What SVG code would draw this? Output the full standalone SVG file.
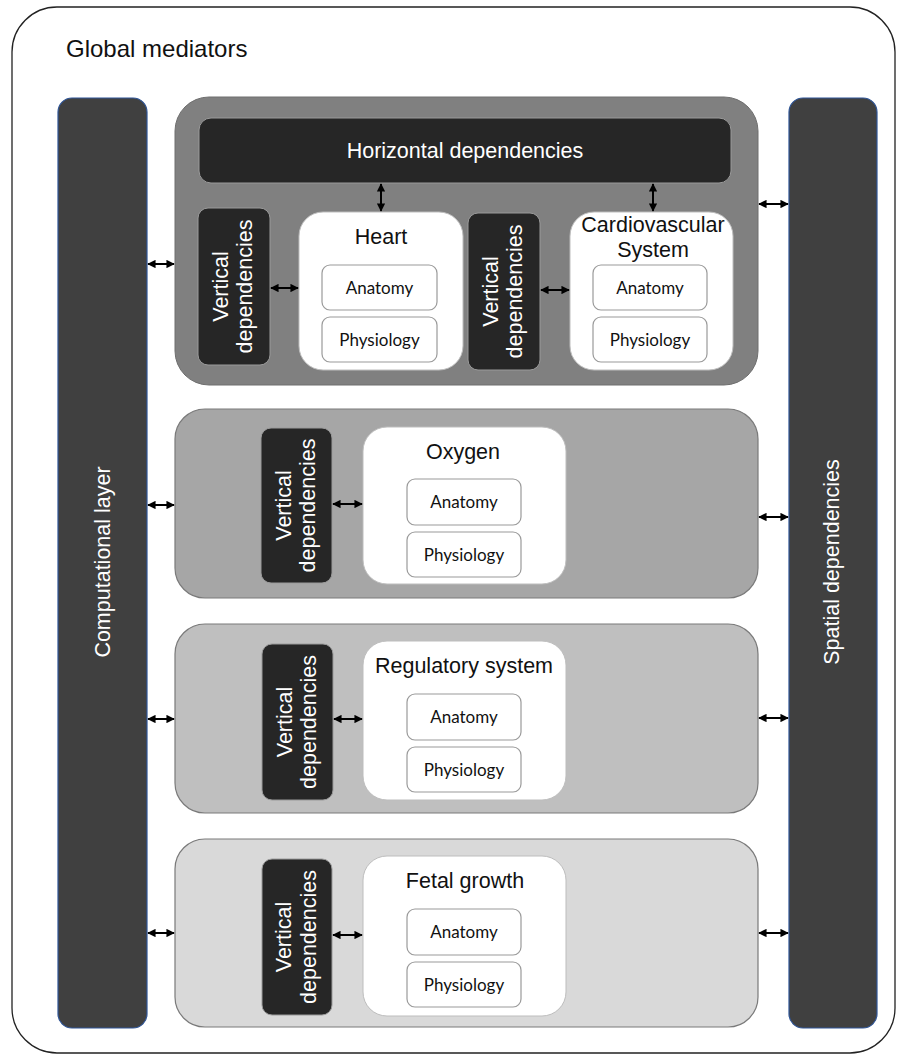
<svg xmlns="http://www.w3.org/2000/svg" width="897" height="1056" viewBox="0 0 897 1056">
<defs>
<marker id="ah" viewBox="0 0 10 10" refX="9" refY="5" markerWidth="4.2" markerHeight="4.2" orient="auto-start-reverse" markerUnits="strokeWidth">
<path d="M0,0 L10,5 L0,10 z" fill="#000"/>
</marker>
<style>
.t{font-family:"Liberation Sans",Arial,sans-serif;font-size:21.5px;text-anchor:middle}
.w{fill:#fff}
.k{fill:#111}
.s{font-family:Lato,"Open Sans",sans-serif;font-size:17px;text-anchor:middle;fill:#111}
.bar{fill:#404040;stroke:#2f5597;stroke-width:1.2}
.vd{fill:#262626;stroke:#9a9a9a;stroke-width:1}
.wb{fill:#fff;stroke:#bdbdbd;stroke-width:1}
.sb{fill:#fff;stroke:#9a9a9a;stroke-width:1.2}
.c{stroke:#000;stroke-width:2;fill:none;marker-start:url(#ah);marker-end:url(#ah)}
</style>
</defs>
<rect width="897" height="1056" fill="#fff"/>
<g id="global">
<rect x="12" y="7" width="883" height="1046" rx="45" fill="#fff" stroke="#222" stroke-width="1.3"/>
<text class="t k" x="66" y="57" style="text-anchor:start;font-size:24px">Global mediators</text>
</g>
<g id="computational">
<rect class="bar" x="58" y="98" width="89" height="930" rx="14"/>
<text class="t w" transform="translate(110,562) rotate(-90)">Computational layer</text>
</g>
<g id="spatial">
<rect class="bar" x="789" y="98" width="88" height="930" rx="14"/>
<text class="t w" transform="translate(839,562) rotate(-90)">Spatial dependencies</text>
</g>
<g id="panel-top">
<rect x="175" y="97" width="583" height="288" rx="34" fill="#808080" stroke="#6f6f6f" stroke-width="1"/>
</g>
<g id="horizontal">
<rect class="vd" x="199" y="118" width="532" height="65" rx="12"/>
<text class="t w" x="465" y="158">Horizontal dependencies</text>
</g>
<g id="vd1">
<rect class="vd" x="198" y="208" width="72" height="157" rx="10"/>
<text class="t w" transform="translate(228,286.5) rotate(-90)">Vertical</text>
<text class="t w" transform="translate(252,286.5) rotate(-90)">dependencies</text>
</g>
<g id="heart">
<rect class="wb" x="299" y="212" width="164" height="158" rx="24"/>
<text class="t k" x="381" y="244">Heart</text>
<rect class="sb" x="322" y="265" width="115" height="45" rx="8"/>
<text class="s" x="379.5" y="293.5">Anatomy</text>
<rect class="sb" x="322" y="317" width="115" height="45" rx="8"/>
<text class="s" x="379.5" y="345.5">Physiology</text>
</g>
<g id="vd2">
<rect class="vd" x="468" y="213" width="72" height="157" rx="10"/>
<text class="t w" transform="translate(497.5,291.5) rotate(-90)">Vertical</text>
<text class="t w" transform="translate(522,291.5) rotate(-90)">dependencies</text>
</g>
<g id="cardio">
<rect class="wb" x="570" y="212" width="163" height="158" rx="24"/>
<text class="t k" x="653" y="232">Cardiovascular</text>
<text class="t k" x="653" y="257">System</text>
<rect class="sb" x="593" y="265" width="114" height="45" rx="8"/>
<text class="s" x="650" y="293.5">Anatomy</text>
<rect class="sb" x="593" y="317" width="114" height="45" rx="8"/>
<text class="s" x="650" y="345.5">Physiology</text>
</g>
<g id="panel-oxygen">
<rect x="175" y="409" width="583" height="189" rx="30" fill="#a6a6a6" stroke="#7a7a7a" stroke-width="1.2"/>
<rect class="vd" x="261" y="428" width="71" height="155" rx="10"/>
<text class="t w" transform="translate(290.5,505.5) rotate(-90)">Vertical</text>
<text class="t w" transform="translate(315,505.5) rotate(-90)">dependencies</text>
<rect class="wb" x="363" y="427" width="203" height="157" rx="24"/>
<text class="t k" x="463" y="459">Oxygen</text>
<rect class="sb" x="407" y="479" width="114" height="46" rx="8"/>
<text class="s" x="464" y="508">Anatomy</text>
<rect class="sb" x="407" y="532" width="114" height="45" rx="8"/>
<text class="s" x="464" y="560.5">Physiology</text>
</g>
<g id="panel-regulatory">
<rect x="175" y="624" width="583" height="189" rx="30" fill="#bfbfbf" stroke="#7a7a7a" stroke-width="1.2"/>
<rect class="vd" x="262" y="644" width="71" height="156" rx="10"/>
<text class="t w" transform="translate(291.5,722) rotate(-90)">Vertical</text>
<text class="t w" transform="translate(316,722) rotate(-90)">dependencies</text>
<rect class="wb" x="363" y="641" width="203" height="159" rx="24"/>
<text class="t k" x="464" y="673">Regulatory system</text>
<rect class="sb" x="407" y="694" width="114" height="46" rx="8"/>
<text class="s" x="464" y="723">Anatomy</text>
<rect class="sb" x="407" y="747" width="114" height="45" rx="8"/>
<text class="s" x="464" y="775.5">Physiology</text>
</g>
<g id="panel-fetal">
<rect x="175" y="839" width="583" height="188" rx="30" fill="#d9d9d9" stroke="#7a7a7a" stroke-width="1.2"/>
<rect class="vd" x="262" y="859" width="70" height="156" rx="10"/>
<text class="t w" transform="translate(291,937) rotate(-90)">Vertical</text>
<text class="t w" transform="translate(315.5,937) rotate(-90)">dependencies</text>
<rect class="wb" x="363" y="856" width="203" height="160" rx="24"/>
<text class="t k" x="465" y="888">Fetal growth</text>
<rect class="sb" x="407" y="909" width="114" height="46" rx="8"/>
<text class="s" x="464" y="938">Anatomy</text>
<rect class="sb" x="407" y="962" width="114" height="45" rx="8"/>
<text class="s" x="464" y="990.5">Physiology</text>
</g>
<g id="connectors">
<line class="c" x1="148" y1="264" x2="174" y2="264"/>
<line class="c" x1="271" y1="288" x2="298" y2="288"/>
<line class="c" x1="541" y1="290" x2="569" y2="290"/>
<line class="c" x1="381" y1="184" x2="381" y2="211"/>
<line class="c" x1="653" y1="184" x2="653" y2="211"/>
<line class="c" x1="759" y1="204" x2="788" y2="204"/>
<line class="c" x1="148" y1="505" x2="174" y2="505"/>
<line class="c" x1="333" y1="504" x2="362" y2="504"/>
<line class="c" x1="759" y1="517" x2="788" y2="517"/>
<line class="c" x1="148" y1="719" x2="174" y2="719"/>
<line class="c" x1="334" y1="719" x2="362" y2="719"/>
<line class="c" x1="759" y1="718" x2="788" y2="718"/>
<line class="c" x1="148" y1="933" x2="174" y2="933"/>
<line class="c" x1="333" y1="935" x2="362" y2="935"/>
<line class="c" x1="759" y1="933" x2="788" y2="933"/>
</g>
</svg>
